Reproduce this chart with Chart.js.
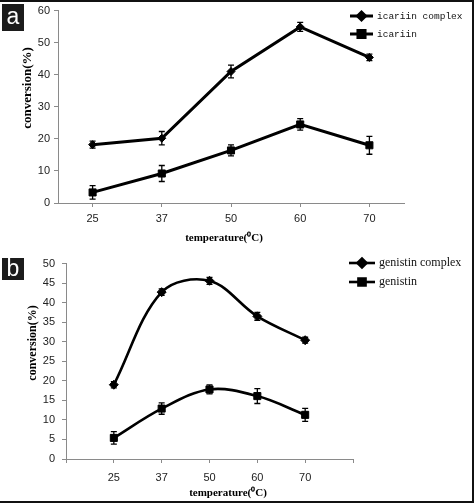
<!DOCTYPE html>
<html><head><meta charset="utf-8">
<script src="https://cdn.jsdelivr.net/npm/chart.js@4"></script>
<style>
html,body{margin:0;padding:0;background:#fff;width:474px;height:503px;overflow:hidden;}
#frame{position:absolute;left:0;top:0;width:474px;height:503px;box-sizing:border-box;border-top:2px solid #111;border-right:2px solid #111;border-bottom:2px solid #111;pointer-events:none;}
.wrap{position:absolute;left:0;width:474px;}
.tag{position:absolute;left:2px;width:22px;background:#1c1c1c;color:#fff;font:23px "Liberation Sans",Arial,sans-serif;text-align:center;}
</style></head>
<body>
<div class="wrap" style="top:0;height:250px"><canvas id="ca" width="474" height="250"></canvas></div>
<div class="wrap" style="top:250px;height:253px"><canvas id="cb" width="474" height="253"></canvas></div>
<div class="tag" style="top:4px;height:27px;line-height:25px">a</div>
<div class="tag" style="top:258px;height:22px;line-height:21px">b</div>
<div id="frame"></div>
<script>
// ---- data ----
const categories = ['25', '37', '50', '60', '70'];
const icariinComplex    = [18.2, 20.2, 41.0, 54.9, 45.4];
const icariinComplexErr = [1.1, 2.1, 2.0, 1.4, 1.0];
const icariin           = [3.3, 9.2, 16.4, 24.5, 18.0];
const icariinErr        = [2.1, 2.5, 1.7, 1.8, 2.8];
const genistinComplex    = [19.0, 42.7, 45.6, 36.5, 30.4];
const genistinComplexErr = [0.8, 0.85, 0.9, 1.0, 0.75];
const genistin           = [5.4, 12.9, 17.8, 16.1, 11.3];
const genistinErr        = [1.6, 1.45, 1.15, 1.9, 1.65];
const yTicksA = [0, 10, 20, 30, 40, 50, 60];
const yTicksB = [0, 5, 10, 15, 20, 25, 30, 35, 40, 45, 50];
const yTitle = 'conversion(%)';
const xTitle = 'temperature(\u2070C)';

// ---- plugins ----
const errorBars = {
  id: 'errorBars',
  afterDatasetsDraw(chart) {
    const ctx = chart.ctx, ys = chart.scales.y;
    ctx.save();
    ctx.strokeStyle = '#000';
    ctx.lineWidth = 1.3;
    chart.data.datasets.forEach((ds, i) => {
      const meta = chart.getDatasetMeta(i);
      meta.data.forEach((pt, j) => {
        const v = ds.data[j], e = ds.errors[j];
        if (v == null || e == null) return;
        const x = pt.x, y1 = ys.getPixelForValue(v + e), y2 = ys.getPixelForValue(v - e);
        ctx.beginPath();
        ctx.moveTo(x, y1); ctx.lineTo(x, y2);
        ctx.moveTo(x - 3, y1); ctx.lineTo(x + 3, y1);
        ctx.moveTo(x - 3, y2); ctx.lineTo(x + 3, y2);
        ctx.stroke();
      });
    });
    ctx.restore();
  }
};
const customLegend = {
  id: 'customLegend',
  afterDraw(chart, args, o) {
    const ctx = chart.ctx;
    ctx.save();
    chart.data.datasets.forEach((ds, i) => {
      const y = o.ys[i];
      ctx.strokeStyle = '#000'; ctx.fillStyle = '#000';
      ctx.lineWidth = ds.borderWidth;
      ctx.beginPath(); ctx.moveTo(o.x0, y); ctx.lineTo(o.x1, y); ctx.stroke();
      Chart.helpers.drawPoint(ctx, {pointStyle: ds.pointStyle, radius: ds.pointRadius, rotation: 0, borderWidth: 1}, (o.x0 + o.x1) / 2, y);
      ctx.font = o.font; ctx.fillStyle = '#111';
      ctx.textBaseline = 'middle'; ctx.textAlign = 'left';
      ctx.fillText(ds.label, o.tx, y);
    });
    ctx.restore();
  }
};
const axisTitles = {
  id: 'axisTitles',
  afterDraw(chart, args, o) {
    const ctx = chart.ctx;
    ctx.save();
    ctx.fillStyle = '#000';
    ctx.font = o.yFont; ctx.textAlign = 'center'; ctx.textBaseline = 'middle';
    ctx.translate(o.yx, o.yy); ctx.rotate(-Math.PI / 2);
    ctx.fillText(o.yText, 0, 0);
    ctx.setTransform(1, 0, 0, 1, 0, 0);
    ctx.font = o.xFont;
    ctx.fillText(o.xText, o.xx, o.xy);
    ctx.restore();
  }
};

const tickFont = {family: '"Liberation Sans", Arial, sans-serif', size: 11};
function ds(label, data, errors, style, radius, width, tension) {
  return {label, data, errors, borderColor: '#000', backgroundColor: '#000', borderWidth: width,
    pointStyle: style, pointRadius: radius, pointHoverRadius: radius, pointBorderWidth: 1, tension, fill: false};
}
function scales(yTicks, yWidth, xHeight, xPad, yPad, offset) {
  return {
    x: {offset, grid: {display: true, drawOnChartArea: false, drawTicks: true, tickLength: 4, color: '#8a8a8a', offset: false},
        border: {color: '#8a8a8a', width: 1},
        ticks: {font: tickFont, color: '#222', padding: xPad, maxRotation: 0, autoSkip: false},
        afterFit(s) { s.height = xHeight; }},
    y: {min: yTicks[0], max: yTicks[yTicks.length - 1],
        afterBuildTicks(s) { s.ticks = yTicks.map(v => ({value: v})); },
        grid: {drawOnChartArea: false, drawTicks: true, tickLength: 4, color: '#8a8a8a'},
        border: {color: '#8a8a8a', width: 1},
        ticks: {font: tickFont, color: '#222', padding: yPad},
        afterFit(s) { s.width = yWidth; }}
  };
}

new Chart(document.getElementById('ca'), {
  type: 'line',
  data: {labels: categories, datasets: [
    ds('icariin complex', icariinComplex, icariinComplexErr, 'rectRot', 4, 3, 0),
    ds('icariin', icariin, icariinErr, 'rect', 5, 3, 0)
  ]},
  options: {
    responsive: false, animation: false, events: [],
    layout: {padding: {left: 0, right: 70, top: 6, bottom: 0}},
    plugins: {
      legend: {display: false}, tooltip: {enabled: false},
      customLegend: {x0: 350, x1: 373, tx: 377, ys: [16, 34], font: '9.5px "Liberation Mono", "DejaVu Sans Mono", monospace'},
      axisTitles: {yText: yTitle, yx: 28, yy: 88, yFont: 'bold 13px "Liberation Serif", "Times New Roman", serif',
                   xText: xTitle, xx: 224, xy: 238, xFont: 'bold 11px "Liberation Serif", "Times New Roman", serif'}
    },
    scales: scales(yTicksA, 58, 47, 5, 4, true)
  },
  plugins: [errorBars, customLegend, axisTitles]
});

const padLabels = ['', ...categories, ''];
const pad = a => [null, ...a, null];
new Chart(document.getElementById('cb'), {
  type: 'line',
  data: {labels: padLabels, datasets: [
    ds('genistin complex', pad(genistinComplex), pad(genistinComplexErr), 'rectRot', 4.5, 2.6, 0.35),
    ds('genistin', pad(genistin), pad(genistinErr), 'rect', 5, 2.6, 0.35)
  ]},
  options: {
    responsive: false, animation: false, events: [],
    layout: {padding: {left: 0, right: 121, top: 13, bottom: 0}},
    plugins: {
      legend: {display: false}, tooltip: {enabled: false},
      customLegend: {x0: 349, x1: 375, tx: 379, ys: [13, 32], font: '12px "Liberation Serif", "Times New Roman", serif'},
      axisTitles: {yText: yTitle, yx: 33, yy: 93, yFont: 'bold 12px "Liberation Serif", "Times New Roman", serif',
                   xText: xTitle, xx: 228, xy: 243, xFont: 'bold 11px "Liberation Serif", "Times New Roman", serif'}
    },
    scales: scales(yTicksB, 66, 44, 8, 7, false)
  },
  plugins: [errorBars, customLegend, axisTitles]
});
</script>
</body></html>
